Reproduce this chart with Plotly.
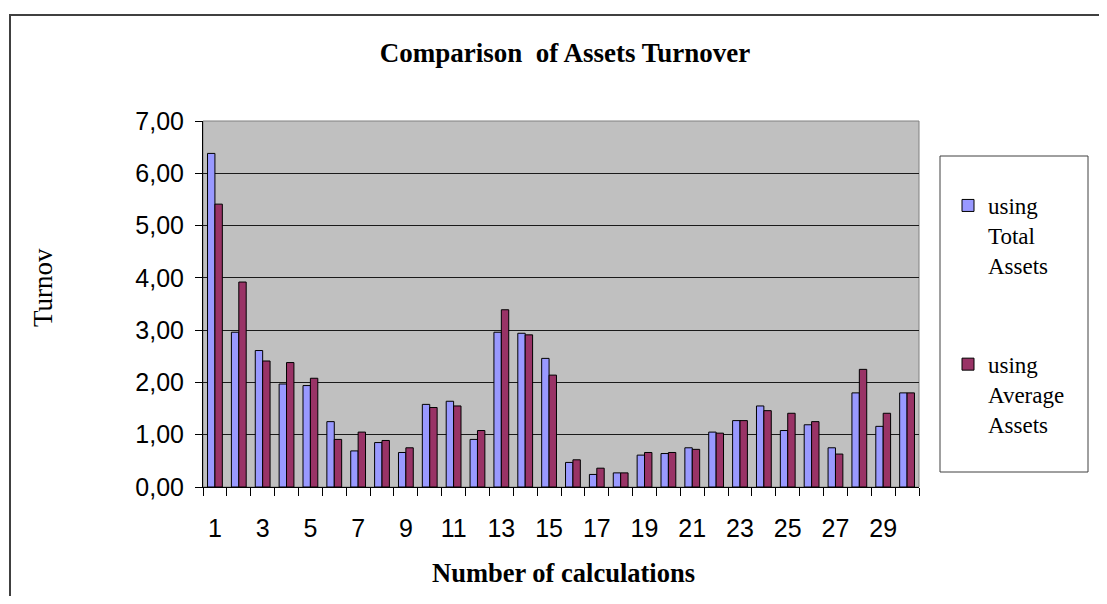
import plotly.graph_objects as go

calculations = list(range(1, 31))
total_assets = [6.38, 2.96, 2.61, 1.97, 1.94, 1.25, 0.69, 0.85, 0.66, 1.58,
                1.64, 0.91, 2.96, 2.94, 2.46, 0.47, 0.24, 0.27, 0.61, 0.64,
                0.75, 1.05, 1.27, 1.55, 1.08, 1.19, 0.75, 1.80, 1.16, 1.80]
average_assets = [5.41, 3.92, 2.41, 2.38, 2.08, 0.91, 1.05, 0.89, 0.75, 1.52,
                  1.55, 1.08, 3.39, 2.91, 2.14, 0.52, 0.36, 0.27, 0.66, 0.66,
                  0.72, 1.03, 1.27, 1.46, 1.41, 1.25, 0.63, 2.25, 1.41, 1.80]
x_tick_vals = [1, 3, 5, 7, 9, 11, 13, 15, 17, 19, 21, 23, 25, 27, 29]
x_tick_text = ["1", "3", "5", "7", "9", "11", "13", "15", "17", "19", "21", "23", "25", "27", "29"]
y_tick_vals = [0, 1, 2, 3, 4, 5, 6, 7]

# page has an 8px body margin; figure is sized to fit inside the window
OFF = 8
W, H = 1107 - 2 * OFF, 604 - 2 * OFF
L, R, T, B = 203 - OFF, 919 - OFF, 121 - OFF, 487 - OFF


def px(x):
    return (x - OFF - L) / (R - L)


def py(y):
    return (B - (y - OFF)) / (B - T)


fig = go.Figure()
fig.add_trace(go.Bar(
    x=calculations, y=total_assets, name="using<br>Total<br>Assets",
    marker=dict(color="#9999FF", line=dict(color="black", width=1)),
    legendgroup="a",
))
fig.add_trace(go.Bar(
    x=calculations, y=average_assets, name="using<br>Average<br>Assets",
    marker=dict(color="#993366", line=dict(color="black", width=1)),
    legendgroup="b",
))

serif = "Liberation Serif, Times New Roman, serif"
sans = "Liberation Sans, Arial, sans-serif"

fig.update_layout(
    width=W, height=H,
    margin=dict(l=L, r=W - R, t=T, b=H - B, autoexpand=False),
    paper_bgcolor="white",
    plot_bgcolor="#C0C0C0",
    separators=", ",
    barmode="group",
    bargap=0.38,
    bargroupgap=0,
    title=dict(text="<b>Comparison  of Assets Turnover</b>",
               font=dict(family=serif, size=27, color="black"),
               xref="paper", x=px(565), xanchor="center",
               yref="container", y=1 - (53 - OFF) / H, yanchor="middle"),
    showlegend=True,
    legend=dict(
        x=px(948), xanchor="left", y=py(184), yanchor="top",
        bgcolor="rgba(0,0,0,0)", borderwidth=0,
        font=dict(family=serif, size=23, color="black"),
        traceorder="grouped", tracegroupgap=66, valign="top",
        itemwidth=30,
    ),
    xaxis=dict(
        range=[0.5, 30.5], tickmode="array", tickvals=x_tick_vals, ticktext=x_tick_text,
        ticks="outside", ticklen=8, tickcolor="rgba(0,0,0,0)",
        tickfont=dict(family=sans, size=25, color="black"),
        ticklabelstandoff=11,
        showline=True, linecolor="black", linewidth=1,
        showgrid=False, zeroline=False,
        minor=dict(tickmode="linear", tick0=0.5, dtick=1, ticks="outside",
                   ticklen=8, tickcolor="black", showgrid=False),
    ),
    yaxis=dict(
        range=[0, 7], tickmode="array", tickvals=y_tick_vals, tickformat=".2f",
        ticks="outside", ticklen=7, tickcolor="black",
        tickfont=dict(family=sans, size=25, color="black"),
        ticklabelstandoff=6,
        showline=True, linecolor="black", linewidth=1,
        showgrid=True, gridcolor="#1a1a1a", gridwidth=1,
        zeroline=False,
    ),
    shapes=[
        # plot-area frame (top/right in gray)
        dict(type="rect", xref="paper", yref="paper", x0=0, x1=1, y0=0, y1=1,
             line=dict(color="#808080", width=1), layer="below"),
        # legend box
        dict(type="rect", xref="paper", yref="paper",
             x0=px(940), x1=px(1088), y0=py(472), y1=py(156),
             line=dict(color="#404040", width=1), fillcolor="white", layer="below"),
        # chart outer border
        dict(type="line", xref="paper", yref="paper",
             x0=px(10), x1=px(10), y0=py(620), y1=py(15),
             line=dict(color="#404040", width=2)),
        dict(type="line", xref="paper", yref="paper",
             x0=px(9), x1=px(1120), y0=py(15), y1=py(15),
             line=dict(color="#404040", width=2)),
    ],
    annotations=[
        dict(text="<b>Number of calculations</b>", xref="paper", yref="paper",
             x=px(563), y=py(573), xanchor="center", yanchor="middle",
             showarrow=False, font=dict(family=serif, size=26.5, color="black")),
        dict(text="Turnov", xref="paper", yref="paper",
             x=px(43), y=py(288), xanchor="center", yanchor="middle",
             textangle=-90, showarrow=False,
             font=dict(family=serif, size=27, color="black")),
    ],
)

fig.write_html("out.html")
